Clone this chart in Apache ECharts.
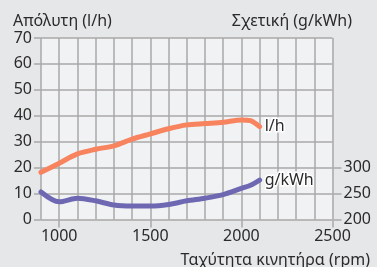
<!DOCTYPE html>
<html><head><meta charset="utf-8">
<script src="https://cdn.jsdelivr.net/npm/echarts@6/dist/echarts.min.js"></script>
<style>html,body{margin:0;padding:0;background:#e6e7e8;}#c{width:377px;height:267px;}</style>
</head><body><div id="c"></div>
<script>
const rpm = [900,1000,1100,1200,1300,1400,1500,1600,1700,1800,1900,2000,2050,2100];
const absolute = [18.2,21.7,25.3,27.1,28.4,31,33,35,36.5,37,37.5,38.4,38.1,35.8];
const relative = [253,234,241,236,228,226,226,229,236,241,248,260,266,276];
const xTickLabels = [1000,1500,2000,2500];
const rightTickLabels = [200,250,300];
const seriesNames = ['l/h','g/kWh'];

const font = 'Noto Sans';
const ink = '#2b2b2b';
const gridCol = '#a9a9a9';
const W = 377, H = 267;
const L = 41, R = 44.5, T = 38, B = 47.5;
const plotW = W - L - R, plotH = H - T - B;
const xMin = 900, xMax = 2500;
const yRightMin = 200, yRightMax = 550;
// sub-grids aligned with the main plot so their axes show only the labelled ticks
const gridTickX = {left: L + plotW * (xTickLabels[0] - xMin) / (xMax - xMin), right: R, top: T, bottom: B};
const gridTickY = {left: L, right: R, bottom: B, top: H - B - plotH * (rightTickLabels[rightTickLabels.length-1] - yRightMin) / (yRightMax - yRightMin)};

const chart = echarts.init(document.getElementById('c'));
chart.setOption({
  backgroundColor: '#e6e7e8',
  animation: false,
  textStyle: {fontFamily: font},
  title: [
    {text: 'Απόλυτη (l/h)', left: 8, top: 8, textStyle: {fontFamily: font, fontSize: 16, fontWeight: 'normal', color: ink}},
    {text: 'Σχετική (g/kWh)', right: 20, top: 8, textStyle: {fontFamily: font, fontSize: 16, fontWeight: 'normal', color: ink}},
    {text: 'Ταχύτητα κινητήρα (rpm)', right: 2, top: 247, textStyle: {fontFamily: font, fontSize: 16, fontWeight: 'normal', color: ink}}
  ],
  grid: [
    {left: L, right: R, top: T, bottom: B, show: true, backgroundColor: '#f1f2f4', borderWidth: 0},
    Object.assign({show: false}, gridTickX),
    Object.assign({show: false}, gridTickY)
  ],
  xAxis: [
    {type: 'value', gridIndex: 0, min: xMin, max: xMax, interval: 100,
     axisLine: {show: false},
     axisTick: {show: false},
     axisLabel: {formatter: v => (xTickLabels.indexOf(v) >= 0 ? String(v) : ''), fontFamily: font, fontSize: 16, color: ink, margin: 9},
     splitLine: {show: true, lineStyle: {color: gridCol, width: 1.5}}},
    {type: 'value', gridIndex: 1, min: xTickLabels[0], max: xTickLabels[xTickLabels.length-1], interval: 500,
     axisLine: {show: false},
     axisTick: {show: true, length: 8, lineStyle: {color: gridCol, width: 1.5}},
     axisLabel: {show: false},
     splitLine: {show: false}},
    {type: 'value', gridIndex: 2, min: xMin, max: xMax, show: false}
  ],
  yAxis: [
    {type: 'value', gridIndex: 0, min: 0, max: 70, interval: 10,
     axisLine: {show: false},
     axisTick: {show: true, length: 7, lineStyle: {color: gridCol, width: 1.5}},
     axisLabel: {fontFamily: font, fontSize: 16, color: ink, margin: 9},
     splitLine: {show: true, lineStyle: {color: gridCol, width: 1.5}}},
    {type: 'value', gridIndex: 0, min: yRightMin, max: yRightMax, position: 'right', show: false},
    {type: 'value', gridIndex: 1, min: 0, max: 70, show: false},
    {type: 'value', gridIndex: 2, min: rightTickLabels[0], max: rightTickLabels[rightTickLabels.length-1], interval: 50, position: 'right',
     axisLine: {show: false},
     axisTick: {show: true, length: 9, lineStyle: {color: gridCol, width: 1.5}},
     axisLabel: {fontFamily: font, fontSize: 16, color: ink, margin: 11},
     splitLine: {show: false}}
  ],
  series: [
    {name: seriesNames[0], type: 'line', xAxisIndex: 0, yAxisIndex: 0, smooth: 0.3, symbol: 'none',
     data: rpm.map((x,i)=>[x, absolute[i]]),
     lineStyle: {color: '#f7835f', width: 5, cap: 'round'},
     endLabel: {show: true, formatter: seriesNames[0], distance: 5, fontFamily: font, fontSize: 16, color: ink, textBorderColor: '#ffffff', textBorderWidth: 3}},
    {name: seriesNames[1], type: 'line', xAxisIndex: 0, yAxisIndex: 1, smooth: 0.3, symbol: 'none',
     data: rpm.map((x,i)=>[x, relative[i]]),
     lineStyle: {color: '#6e68b3', width: 5, cap: 'round'},
     endLabel: {show: true, formatter: seriesNames[1], distance: 5, fontFamily: font, fontSize: 16, color: ink, textBorderColor: '#ffffff', textBorderWidth: 3}}
  ]
});
</script></body></html>
